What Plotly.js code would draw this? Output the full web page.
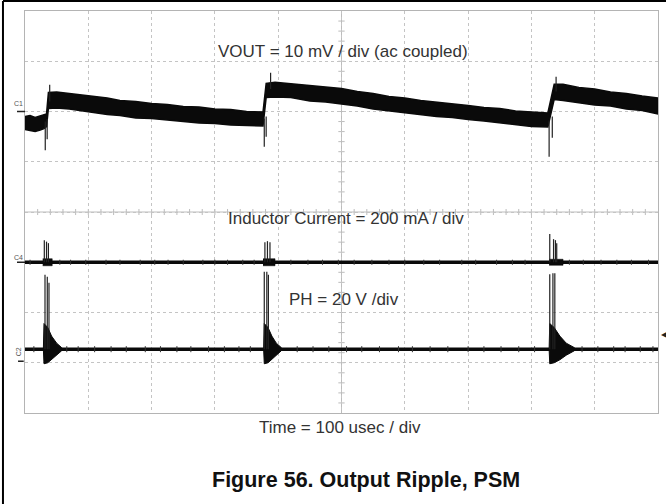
<!DOCTYPE html>
<html>
<head>
<meta charset="utf-8">
<script src="https://cdn.plot.ly/plotly-3.0.1.min.js"></script>
<style>
html,body{margin:0;padding:0;background:#fff;}
#chart{width:666px;height:504px;}
</style>
</head>
<body>
<div id="chart"></div>
<script>
// ---- Data read from the scope capture (x in usec, y in divisions) ----
// C1: VOUT band (upper / lower envelope)
const c1X     = [0, 8, 16, 24, 30, 34, 37, 50, 70, 90, 110, 130, 150, 175, 200, 225, 250, 275, 300, 325, 350, 376, 381, 395, 420, 450, 475, 500, 525, 550, 575, 600, 625, 650, 675, 700, 725, 750, 775, 800, 826, 836, 850, 875, 900, 925, 950, 975, 1000];
const c1Upper = [1.90, 1.92, 1.88, 1.91, 1.93, 1.95, 2.38, 2.39, 2.36, 2.33, 2.29, 2.27, 2.22, 2.20, 2.16, 2.14, 2.10, 2.09, 2.05, 2.04, 2.00, 1.99, 2.56, 2.58, 2.55, 2.52, 2.48, 2.46, 2.40, 2.36, 2.30, 2.27, 2.22, 2.19, 2.15, 2.12, 2.08, 2.06, 2.01, 1.99, 1.97, 2.54, 2.54, 2.48, 2.45, 2.39, 2.36, 2.31, 2.27];
const c1Lower = [1.64, 1.62, 1.60, 1.63, 1.66, 1.70, 2.06, 2.07, 2.05, 2.02, 1.98, 1.94, 1.92, 1.87, 1.86, 1.83, 1.80, 1.77, 1.76, 1.73, 1.72, 1.71, 2.28, 2.29, 2.28, 2.21, 2.19, 2.15, 2.11, 2.05, 2.02, 1.97, 1.94, 1.90, 1.88, 1.84, 1.81, 1.77, 1.74, 1.70, 1.69, 2.24, 2.22, 2.18, 2.13, 2.11, 2.05, 2.02, 1.95];
// C1 switching spikes
const c1SpikeX    = [32, 35, 39, 378, 381, 388, 828, 833, 839];
const c1SpikeFrom = [1.80, 1.85, 2.20, 1.86, 1.90, 2.45, 1.82, 1.90, 2.40];
const c1SpikeTo   = [1.23, 1.45, 2.53, 1.30, 1.50, 2.77, 1.10, 1.48, 2.69];

// C4: inductor current
const c4BaseX = [0, 1000];
const c4BaseY = [-1.0, -1.0];
const c4BurstStart = [28, 376, 828];
const c4BurstEnd   = [43, 395, 850];
const c4BurstTop   = [-0.93, -0.93, -0.94];
const c4BurstBot   = [-1.07, -1.07, -1.06];
const c4SpikeX  = [30.5, 34, 37, 379, 383, 387, 829, 835, 838, 840];
const c4SpikeTo = [-0.56, -0.59, -0.62, -0.60, -0.58, -0.60, -0.44, -0.54, -0.56, -0.62];
const c4NoiseX = [8, 55, 72, 96, 128, 150, 182, 205, 226, 250, 281, 300, 320, 344, 362, 420, 447, 470, 495, 520, 548, 575, 600, 630, 655, 690, 712, 745, 770, 790, 860, 882, 910, 935, 958, 985];

// C2: PH switch node
const c2BaseX = [0, 1000];
const c2BaseY = [-2.73, -2.73];
const c2Burst1X = [29, 30, 36, 42, 50, 58];
const c2Burst2X = [377, 378, 384, 390, 397, 405];
const c2Burst3X = [828, 829, 836, 845, 855, 868];
const c2BurstUpper = [-2.73, -2.22, -2.30, -2.47, -2.61, -2.70];
const c2BurstLower = [-2.73, -3.02, -3.00, -2.94, -2.85, -2.76];
const c2SpikeX  = [31.6, 35.2, 37.9, 378, 382, 384.5, 829, 834, 837];
const c2SpikeTo = [-1.25, -1.29, -1.41, -1.19, -1.19, -1.25, -1.24, -1.22, -1.22];
const c2NoiseX = [14, 66, 84, 110, 136, 160, 190, 214, 240, 262, 290, 315, 338, 356, 430, 455, 480, 508, 532, 560, 590, 612, 640, 668, 700, 725, 752, 780, 805, 880, 905, 930, 948, 972, 992];

const labels = {
  vout: "VOUT = 10 mV / div (ac coupled)",
  il: "Inductor Current = 200 mA / div",
  ph: "PH = 20 V /div",
  time: "Time = 100 usec / div",
  caption: "Figure 56. Output Ripple, PSM"
};

// ---- Build traces ----
function segs(xs, from, to) {
  const x = [], y = [];
  xs.forEach((v, i) => {
    x.push(v, v, null);
    y.push(Array.isArray(from) ? from[i] : from, to[i], null);
  });
  return {x, y};
}
function poly(xs, up, lo) {
  return {x: xs.concat(xs.slice().reverse()), y: up.concat(lo.slice().reverse())};
}
const black = '#0a0a0a';
const traces = [];

// C1 band
const c1p = poly(c1X, c1Upper, c1Lower);
traces.push({x: c1p.x, y: c1p.y, mode: 'lines', fill: 'toself', fillcolor: black,
  line: {color: black, width: 1.5}, hoverinfo: 'skip'});
const c1s = segs(c1SpikeX, c1SpikeFrom, c1SpikeTo);
traces.push({x: c1s.x, y: c1s.y, mode: 'lines', line: {color: '#222', width: 1.2}, hoverinfo: 'skip'});

// C4
traces.push({x: c4BaseX, y: c4BaseY, mode: 'lines', line: {color: black, width: 3.5}, hoverinfo: 'skip'});
c4BurstStart.forEach((s, i) => {
  const bx = [s, c4BurstEnd[i]];
  const p = poly(bx, [c4BurstTop[i], c4BurstTop[i]], [c4BurstBot[i], c4BurstBot[i]]);
  traces.push({x: p.x, y: p.y, mode: 'lines', fill: 'toself', fillcolor: black,
    line: {color: black, width: 0.5}, hoverinfo: 'skip'});
});
const c4s = segs(c4SpikeX, -1.0, c4SpikeTo);
traces.push({x: c4s.x, y: c4s.y, mode: 'lines', line: {color: '#222', width: 1.2}, hoverinfo: 'skip'});
const c4n = segs(c4NoiseX, -1.05, c4NoiseX.map(() => -0.95));
traces.push({x: c4n.x, y: c4n.y, mode: 'lines', line: {color: '#333', width: 1}, hoverinfo: 'skip'});

// C2
traces.push({x: c2BaseX, y: c2BaseY, mode: 'lines', line: {color: black, width: 3.5}, hoverinfo: 'skip'});
[c2Burst1X, c2Burst2X, c2Burst3X].forEach(bx => {
  const p = poly(bx, c2BurstUpper, c2BurstLower);
  traces.push({x: p.x, y: p.y, mode: 'lines', fill: 'toself', fillcolor: black,
    line: {color: black, width: 1}, hoverinfo: 'skip'});
});
const c2s = segs(c2SpikeX, -2.73, c2SpikeTo);
traces.push({x: c2s.x, y: c2s.y, mode: 'lines', line: {color: '#222', width: 1.2}, hoverinfo: 'skip'});
const c2n = segs(c2NoiseX, -2.79, c2NoiseX.map(() => -2.67));
traces.push({x: c2n.x, y: c2n.y, mode: 'lines', line: {color: '#333', width: 1}, hoverinfo: 'skip'});

// ---- Layout decorations (center graticule ticks, frame) ----
const shapes = [];
const grey = '#bcbcbc';
shapes.push({type: 'line', xref: 'x', yref: 'y', x0: 0, x1: 1000, y0: 0, y1: 0, line: {color: grey, width: 1}, layer: 'below'});
shapes.push({type: 'line', xref: 'x', yref: 'y', x0: 500, x1: 500, y0: -4, y1: 4, line: {color: grey, width: 1}, layer: 'below'});
for (let i = 1; i < 50; i++) {
  shapes.push({type: 'line', xref: 'x', yref: 'y', x0: i * 20, x1: i * 20, y0: -0.06, y1: 0.06, line: {color: grey, width: 1}, layer: 'below'});
}
for (let j = 1; j < 40; j++) {
  const yy = -4 + j * 0.2;
  shapes.push({type: 'line', xref: 'x', yref: 'y', x0: 495, x1: 505, y0: yy, y1: yy, line: {color: grey, width: 1}, layer: 'below'});
}
// outer figure frame (left and top)
shapes.push({type: 'line', xref: 'paper', yref: 'paper', x0: -0.0348, x1: -0.0348, y0: -0.23, y1: 1.0249, line: {color: '#000', width: 2}});
shapes.push({type: 'line', xref: 'paper', yref: 'paper', x0: -0.0348, x1: 1.02, y0: 1.0249, y1: 1.0249, line: {color: '#000', width: 2}});
// channel ground markers
shapes.push({type: 'line', xref: 'paper', yref: 'y', x0: -0.0126, x1: 0, y0: 2.0, y1: 2.0, line: {color: '#222', width: 1.5}});
shapes.push({type: 'line', xref: 'paper', yref: 'y', x0: -0.0126, x1: 0, y0: -1.0, y1: -1.0, line: {color: '#222', width: 1.5}});
shapes.push({type: 'line', xref: 'paper', yref: 'y', x0: -0.0110, x1: -0.002, y0: -2.97, y1: -2.97, line: {color: '#222', width: 1.5}});

const txt = '#333';
const fam = 'Liberation Sans, Arial, Helvetica, sans-serif';
function ann(o) {
  return Object.assign({showarrow: false, xanchor: 'center', yanchor: 'middle'}, o);
}
const annotations = [
  ann({text: labels.vout, xref: 'x', yref: 'y', x: 502, y: 3.2, font: {family: fam, size: 17, color: txt}}),
  ann({text: labels.il, xref: 'x', yref: 'y', x: 507, y: -0.12, font: {family: fam, size: 17, color: txt}}),
  ann({text: labels.ph, xref: 'x', yref: 'y', x: 414, y: -1.75, xanchor: 'left', font: {family: fam, size: 17, color: txt}}),
  ann({text: labels.time, xref: 'paper', yref: 'paper', x: 0.4976, y: -0.0373, font: {family: fam, size: 17, color: txt}}),
  ann({text: '<b>' + labels.caption + '</b>', xref: 'paper', yref: 'paper', x: 0.5387, y: -0.1667, font: {family: fam, size: 21.5, color: '#111'}}),
  ann({text: 'C1', xref: 'paper', yref: 'y', x: -0.0103, y: 2.15, font: {family: fam, size: 7, color: '#555'}}),
  ann({text: 'C4', xref: 'paper', yref: 'y', x: -0.0103, y: -0.9, font: {family: fam, size: 7, color: '#555'}}),
  ann({text: 'C2', xref: 'paper', yref: 'y', x: -0.0110, y: -2.79, textangle: -90, font: {family: fam, size: 7, color: '#555'}}),
  ann({text: '\u25C0', xref: 'paper', yref: 'y', x: 1, xshift: 6, y: -2.43, font: {family: 'DejaVu Sans', size: 8, color: '#222'}})
];

const axisCommon = {
  showgrid: true, gridcolor: '#c4c4c4', griddash: 'dot', gridwidth: 1,
  zeroline: false, showticklabels: false, ticks: '',
  showline: true, mirror: true, linecolor: '#b4b4b4', linewidth: 1, fixedrange: true
};

const layout = {
  width: 666, height: 504,
  margin: {l: 25, r: 8, t: 11, b: 91},
  paper_bgcolor: '#ffffff', plot_bgcolor: '#ffffff',
  showlegend: false,
  xaxis: Object.assign({range: [0, 1000], dtick: 100, tick0: 0}, axisCommon),
  yaxis: Object.assign({range: [-4, 4], dtick: 1, tick0: 0}, axisCommon),
  shapes: shapes,
  annotations: annotations
};

Plotly.newPlot('chart', traces, layout, {staticPlot: true, displayModeBar: false});
</script>
</body>
</html>
